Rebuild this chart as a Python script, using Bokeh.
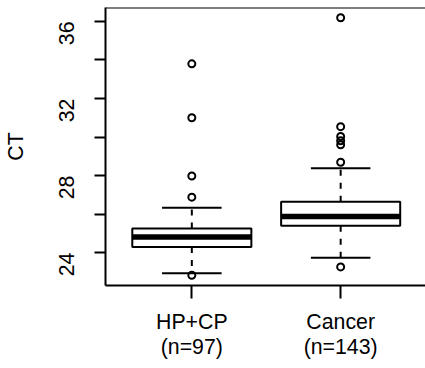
from bokeh.plotting import figure
from bokeh.models import Range1d, FixedTicker, Span, ColumnDataSource
from bokeh.embed import file_html
from bokeh.resources import INLINE

# Summary statistics of CT for each group
groups = ["HP+CP", "Cancer"]
counts = [97, 143]
lower_whisker = [22.93, 23.74]
q1 = [24.29, 25.40]
median = [24.81, 25.88]
q3 = [25.26, 26.64]
upper_whisker = [26.33, 28.38]
outliers_hpcp = [33.80, 31.00, 27.98, 26.88, 22.83]
outliers_cancer = [36.19, 30.54, 30.03, 29.81, 29.60, 28.69, 23.26]

y_ticks = [24, 26, 28, 30, 32, 34, 36]
y_tick_labels = ["24", "", "28", "", "32", "", "36"]

FONT = "Liberation Sans"
FS = "21.3px"

positions = [1, 2]
box_w = 0.8
cap_w = 0.4

# y range padded by 4% of the data span
all_vals = lower_whisker + upper_whisker + outliers_hpcp + outliers_cancer
lo, hi = min(all_vals), max(all_vals)
pad = 0.04 * (hi - lo)

p = figure(width=425, height=368, output_backend="svg", toolbar_location=None,
           x_range=Range1d(0.42, 2.57), y_range=Range1d(lo - pad, hi + pad),
           min_border_left=103, min_border_right=0, min_border_top=7,
           min_border_bottom=83)
p.grid.visible = False
p.outline_line_color = None
p.background_fill_color = "white"
p.border_fill_color = "white"

boxes = ColumnDataSource(dict(
    x=positions, q1=q1, q3=q3, med=median, lw=lower_whisker, uw=upper_whisker,
    left=[x - box_w / 2 for x in positions], right=[x + box_w / 2 for x in positions],
    cl=[x - cap_w / 2 for x in positions], cr=[x + cap_w / 2 for x in positions],
))

# whiskers (dashed), drawn from the box edges outward
p.segment(x0="x", y0="q3", x1="x", y1="uw", source=boxes, line_color="black",
          line_width=2, line_dash="6 7")
p.segment(x0="x", y0="q1", x1="x", y1="lw", source=boxes, line_color="black",
          line_width=2, line_dash="6 7")
# whisker caps
p.segment(x0="cl", y0="uw", x1="cr", y1="uw", source=boxes, line_color="black", line_width=2)
p.segment(x0="cl", y0="lw", x1="cr", y1="lw", source=boxes, line_color="black", line_width=2)
# boxes
p.quad(left="left", right="right", bottom="q1", top="q3", source=boxes,
       fill_color="white", line_color="black", line_width=2)
# medians
p.segment(x0="left", y0="med", x1="right", y1="med", source=boxes, line_color="black",
          line_width=5.5, line_cap="butt")

# outliers
ox = [1] * len(outliers_hpcp) + [2] * len(outliers_cancer)
oy = outliers_hpcp + outliers_cancer
p.scatter(ox, oy, size=7, marker="circle", fill_color=None, line_color="black",
          line_width=2)

# top border of the plotting region
p.add_layout(Span(location=hi + pad, dimension="width", line_color="black", line_width=2))

# axes
ya = p.yaxis[0]
ya.ticker = FixedTicker(ticks=y_ticks)
ya.major_label_overrides = {t: s for t, s in zip(y_ticks, y_tick_labels)}
ya.major_label_orientation = 3.14159265 / 2
ya.axis_label = "CT"
ya.minor_tick_line_color = None
ya.major_tick_out = 11
ya.major_tick_in = 0
ya.major_label_standoff = 28
ya.axis_label_standoff = 21

xa = p.xaxis[0]
xa.ticker = FixedTicker(ticks=positions)
xa.major_label_overrides = {x: f"{g}\n(n={n})" for x, g, n in zip(positions, groups, counts)}
xa.minor_tick_line_color = None
xa.major_tick_out = 13
xa.major_tick_in = 0
xa.major_label_standoff = 11
xa.major_label_text_line_height = 1.08

for ax in (xa, ya):
    ax.axis_line_width = 2
    ax.axis_line_color = "black"
    ax.major_tick_line_width = 2
    ax.major_tick_line_color = "black"
    ax.major_label_text_font = FONT
    ax.major_label_text_font_size = FS
    ax.major_label_text_color = "black"
    ax.axis_label_text_font = FONT
    ax.axis_label_text_font_size = FS
    ax.axis_label_text_font_style = "normal"
    ax.axis_label_text_color = "black"

open("out.html", "w").write(file_html(p, INLINE))
